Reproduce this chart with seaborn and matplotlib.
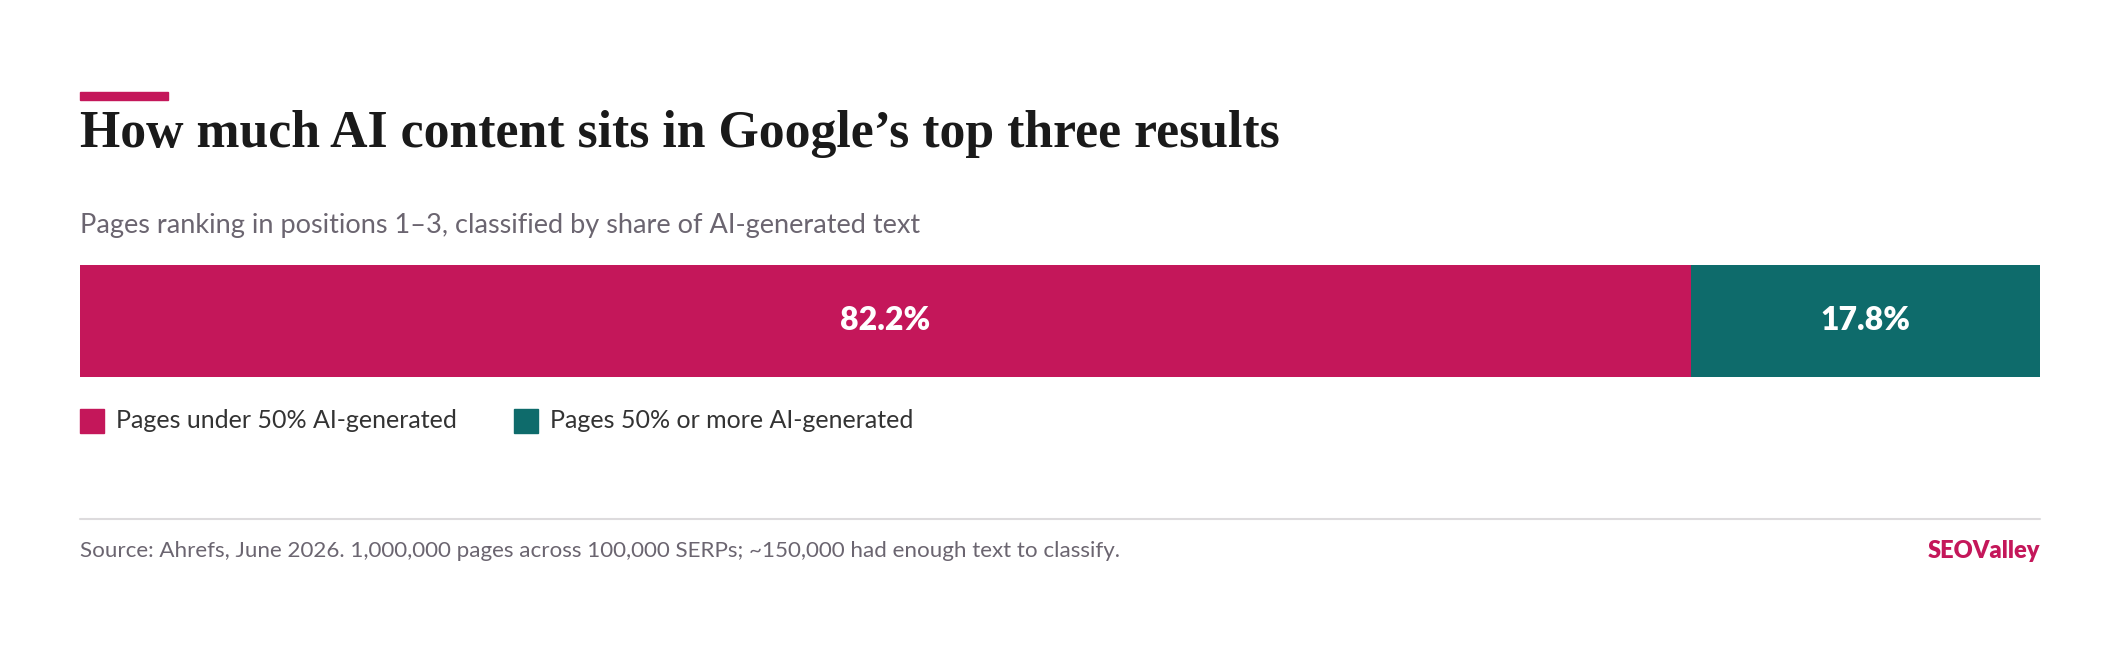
import matplotlib
matplotlib.use("Agg")
import matplotlib.pyplot as plt
import matplotlib.patches as mpatches
import seaborn as sns
import pandas as pd

# data
categories = ["Pages under 50% AI-generated", "Pages 50% or more AI-generated"]
shares = [82.2, 17.8]
colors = ["#C4175A", "#0E6B6B"]
title = "How much AI content sits in Google\u2019s top three results"
subtitle = "Pages ranking in positions 1\u20133, classified by share of AI-generated text"
source = "Source: Ahrefs, June 2026. 1,000,000 pages across 100,000 SERPs; ~150,000 had enough text to classify."
brand = "SEOValley"

sns.set_theme(style="white")
plt.rcParams["font.family"] = ["Lato", "DejaVu Sans"]

W, H = 2120, 650
fig = plt.figure(figsize=(W / 100, H / 100), dpi=100)

def fx(px):
    return px / W

def fy(py):
    return 1 - py / H

left, right = 80, 2040
bar_top, bar_bot = 265, 377
ax = fig.add_axes([fx(left), fy(bar_bot), fx(right - left), (bar_bot - bar_top) / H])

# stacked bar: draw cumulative totals from back to front
df = pd.DataFrame({"cat": categories, "share": shares})
df["cum"] = df["share"].cumsum()
for i in range(len(df) - 1, -1, -1):
    sns.barplot(x=[df["cum"][i]], y=["top3"], color=colors[i], width=1.0,
                saturation=1, ax=ax, edgecolor="none", linewidth=0)

ax.set_xlim(0, 100)
ax.set_ylim(0.5, -0.5)
ax.axis("off")

starts = [0] + list(df["cum"][:-1])
for s, v in zip(starts, shares):
    ax.text(s + v / 2, 0, f"{v:.1f}%", ha="center", va="center", color="white",
            fontsize=23, fontweight="heavy")

# accent line
fig.patches.append(mpatches.Rectangle((fx(80), fy(100)), fx(88), 8 / H,
                                      transform=fig.transFigure, color=colors[0]))

fig.text(fx(80), fy(147), title, family=["Liberation Serif", "DejaVu Serif"],
         fontweight="bold", fontsize=37.3, color="#1a1a1a", va="baseline")
fig.text(fx(80), fy(233), subtitle, fontsize=19.5, color="#6b6570", va="baseline")

# legend
leg_x = [80, 514]
for x0, c, lab in zip(leg_x, colors, categories):
    fig.patches.append(mpatches.Rectangle((fx(x0), fy(433)), fx(24), 24 / H,
                                          transform=fig.transFigure, color=c))
    fig.text(fx(x0 + 36), fy(421), lab, fontsize=18, color="#333333", va="center")

# divider and footer
fig.add_artist(plt.Line2D([fx(80), fx(2040)], [fy(519), fy(519)], color="#dddbdd", lw=1.5))
fig.text(fx(80), fy(551), source, fontsize=16.1, color="#6b6570", va="center")
fig.text(fx(2040), fy(551), brand, fontsize=17, color=colors[0], fontweight="heavy",
         va="center", ha="right")

fig.savefig("out.png", dpi=100, facecolor="white")
